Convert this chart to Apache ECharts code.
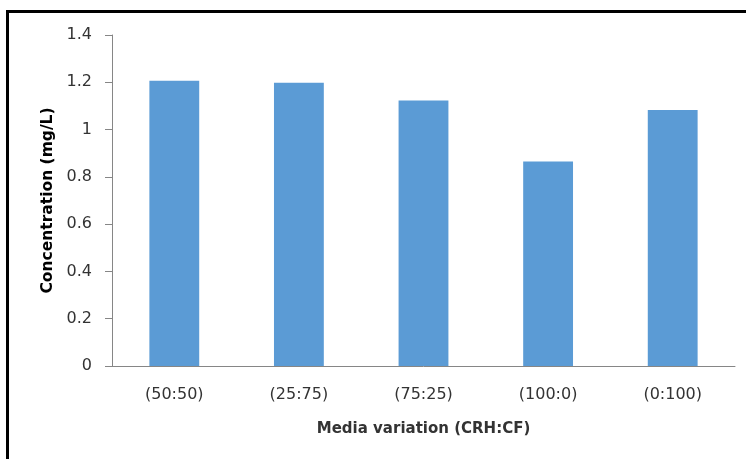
<!DOCTYPE html>
<html>
<head>
<meta charset="utf-8">
<script src="https://cdn.jsdelivr.net/npm/echarts@6/dist/echarts.min.js"></script>
<style>html,body{margin:0;padding:0;background:#fff;}#c{width:746px;height:459px;}</style>
</head>
<body>
<div id="c"></div>
<script>
var categories = ['(50:50)', '(25:75)', '(75:25)', '(100:0)', '(0:100)'];
var values = [1.207, 1.198, 1.123, 0.865, 1.083];
var yTicks = {min: 0, max: 1.4, interval: 0.2};
var xTitle = 'Media variation (CRH:CF)';
var yTitle = 'Concentration (mg/L)';

var chart = echarts.init(document.getElementById('c'), null, {renderer: 'canvas'});
chart.setOption({
  animation: false,
  backgroundColor: '#ffffff',
  graphic: [{
    type: 'rect',
    shape: {x: 7.5, y: 11.5, width: 800, height: 500},
    style: {fill: 'none', stroke: '#000', lineWidth: 3},
    silent: true
  }],
  grid: {left: 112, right: 11, top: 35, bottom: 93, containLabel: false},
  xAxis: {
    type: 'category',
    data: categories,
    name: xTitle,
    nameLocation: 'middle',
    nameGap: 56,
    nameTextStyle: {fontFamily: 'DejaVu Sans', fontWeight: 'bold', fontSize: 15, color: '#333'},
    axisLine: {lineStyle: {color: '#868686', width: 1}},
    axisTick: {show: false},
    axisLabel: {fontFamily: 'DejaVu Sans', fontSize: 16, color: '#333', margin: 21}
  },
  yAxis: {
    type: 'value',
    min: yTicks.min, max: yTicks.max, interval: yTicks.interval,
    name: yTitle,
    nameLocation: 'middle',
    nameRotate: 90,
    nameGap: 54,
    nameTextStyle: {fontFamily: 'DejaVu Sans', fontWeight: 'bold', fontSize: 15.5, color: '#000'},
    axisLine: {show: true, lineStyle: {color: '#868686', width: 1}},
    axisTick: {show: true, length: 7, lineStyle: {color: '#868686'}},
    splitLine: {show: false},
    axisLabel: {fontFamily: 'DejaVu Sans', fontSize: 16, color: '#333', margin: 20,
      formatter: function (v) { return String(Math.round(v * 10) / 10); }}
  },
  series: [{
    type: 'bar',
    data: values,
    barWidth: '40%',
    itemStyle: {color: '#5B9BD5'}
  }]
});
</script>
</body>
</html>
